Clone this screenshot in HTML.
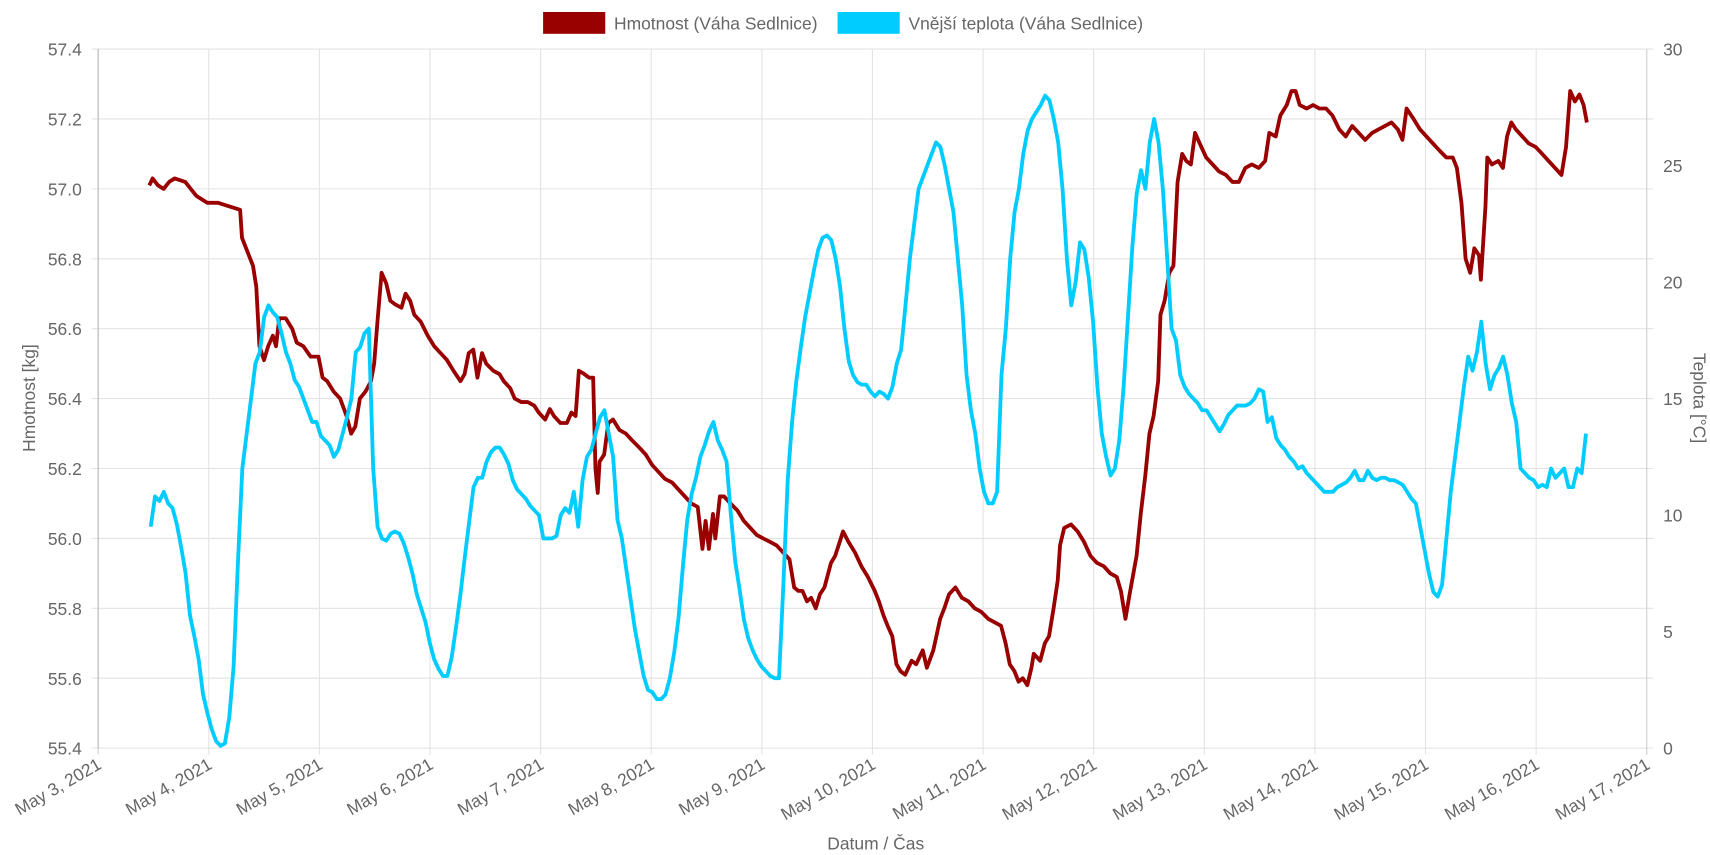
<!DOCTYPE html>
<html><head><meta charset="utf-8"><style>
html,body{margin:0;padding:0;background:#fff;}
svg{display:block;font-family:"Liberation Sans",Arial,sans-serif;}
</style></head><body>
<svg id="chart" width="1710" height="855" viewBox="0 0 1568 784" preserveAspectRatio="none" xmlns="http://www.w3.org/2000/svg">
<g id="grid"></g>
<g id="axes"></g>
<g id="series"></g>
<g>
<g><rect x="498" y="11" width="57" height="20" fill="#990000"/><text x="563" y="27" font-size="16" fill="#666">Hmotnost (Váha Sedlnice)</text></g>
<g><rect x="768" y="11" width="57" height="20" fill="#00ccff"/><text x="833" y="27" font-size="16" fill="#666">Vnější teplota (Váha Sedlnice)</text></g>
</g>
<text transform="translate(32,365) rotate(-90)" text-anchor="middle" font-size="16" fill="#666">Hmotnost [kg]</text>
<text transform="translate(1553,365) rotate(90)" text-anchor="middle" font-size="16" fill="#666">Teplota [°C]</text>
<text x="803" y="779" text-anchor="middle" font-size="16" fill="#666">Datum / Čas</text>
</svg>
<script>
const dayLabels=["May 3, 2021","May 4, 2021","May 5, 2021","May 6, 2021","May 7, 2021","May 8, 2021","May 9, 2021","May 10, 2021","May 11, 2021","May 12, 2021","May 13, 2021","May 14, 2021","May 15, 2021","May 16, 2021","May 17, 2021"];
const leftTicks=[55.4,55.6,55.8,56.0,56.2,56.4,56.6,56.8,57.0,57.2,57.4];
const rightTicks=[0,5,10,15,20,25,30];
// weight: hours since May 3 00:00 and kg
const weightHours=[11.1,11.8,13.0,14.2,15.4,16.6,18.9,20.1,21.3,23.7,26.0,28.4,30.8,31.2,32.7,33.6,34.3,35.0,36.0,36.9,37.9,38.6,39.3,40.7,42.1,43.1,44.5,46.1,47.8,48.7,49.7,51.1,52.5,53.9,54.9,55.8,56.8,58.0,59.2,59.9,60.6,61.5,62.5,63.4,64.4,65.8,66.7,67.7,68.6,70.0,71.5,72.9,74.3,75.7,77.1,78.6,79.5,80.4,81.4,82.3,83.3,84.2,85.7,87.1,88.0,89.4,90.4,91.8,93.2,94.6,95.6,97.0,98.0,98.9,100.3,101.7,102.7,103.6,104.3,105.5,106.5,107.4,107.9,108.4,108.8,109.8,110.7,111.7,113.1,114.5,115.9,117.4,118.8,120.2,121.6,123.0,124.5,125.9,127.3,128.7,130.1,131.1,131.8,132.5,133.4,133.9,134.9,135.8,137.2,138.7,140.1,141.5,142.9,144.3,145.8,147.2,148.6,150.0,151.0,151.9,152.8,153.8,154.7,155.7,156.6,157.6,159.0,159.9,160.9,161.6,162.8,164.2,165.6,167.0,168.5,169.4,170.4,171.3,172.3,173.2,174.1,175.1,176.5,177.5,178.9,179.8,181.2,182.7,183.6,184.6,186.0,187.4,188.8,190.2,191.6,193.1,194.5,195.9,196.9,197.8,198.8,199.7,200.6,201.6,202.5,203.0,204.4,205.4,206.3,207.3,208.2,208.7,209.6,211.1,212.5,213.9,215.3,216.7,218.2,219.6,221.0,221.9,222.9,223.8,225.3,226.2,227.2,228.1,229.0,230.0,230.5,231.4,232.4,233.3,234.2,235.2,236.1,237.1,238.0,239.0,240.4,241.8,243.2,244.7,246.1,247.5,248.9,250.3,251.8,253.2,254.1,255.5,256.5,257.9,258.9,259.8,260.7,262.2,263.6,265.0,266.4,267.8,269.3,270.7,272.1,273.5,274.9,276.4,277.8,279.2,280.6,282.0,283.0,283.9,285.4,286.8,288.2,289.6,291.0,292.5,293.9,294.8,295.8,296.7,297.7,298.6,299.6,300.0,301.0,301.4,302.4,303.8,304.8,305.7,306.6,307.6,309.0,310.4,311.9,313.3,314.7,316.1,317.5,318.5,319.4,320.4,321.4,322.3,323.0];
const weightKg=[57.01,57.03,57.01,57.00,57.02,57.03,57.02,57.00,56.98,56.96,56.96,56.95,56.94,56.86,56.81,56.78,56.72,56.55,56.51,56.55,56.58,56.55,56.63,56.63,56.60,56.56,56.55,56.52,56.52,56.46,56.45,56.42,56.40,56.35,56.30,56.32,56.40,56.42,56.45,56.50,56.62,56.76,56.73,56.68,56.67,56.66,56.70,56.68,56.64,56.62,56.58,56.55,56.53,56.51,56.48,56.45,56.47,56.53,56.54,56.46,56.53,56.50,56.48,56.47,56.45,56.43,56.40,56.39,56.39,56.38,56.36,56.34,56.37,56.35,56.33,56.33,56.36,56.35,56.48,56.47,56.46,56.46,56.20,56.13,56.22,56.24,56.33,56.34,56.31,56.30,56.28,56.26,56.24,56.21,56.19,56.17,56.16,56.14,56.12,56.10,56.09,55.97,56.05,55.97,56.07,56.00,56.12,56.12,56.10,56.08,56.05,56.03,56.01,56.00,55.99,55.98,55.96,55.94,55.86,55.85,55.85,55.82,55.83,55.80,55.84,55.86,55.93,55.95,55.99,56.02,55.99,55.96,55.92,55.89,55.85,55.82,55.78,55.75,55.72,55.64,55.62,55.61,55.65,55.64,55.68,55.63,55.68,55.77,55.80,55.84,55.86,55.83,55.82,55.80,55.79,55.77,55.76,55.75,55.70,55.64,55.62,55.59,55.60,55.58,55.63,55.67,55.65,55.70,55.72,55.80,55.88,55.98,56.03,56.04,56.02,55.99,55.95,55.93,55.92,55.90,55.89,55.85,55.77,55.84,55.95,56.07,56.18,56.30,56.35,56.45,56.64,56.68,56.76,56.78,57.02,57.10,57.08,57.07,57.16,57.13,57.09,57.07,57.05,57.04,57.02,57.02,57.06,57.07,57.06,57.08,57.16,57.15,57.21,57.24,57.28,57.28,57.24,57.23,57.24,57.23,57.23,57.21,57.17,57.15,57.18,57.16,57.14,57.16,57.17,57.18,57.19,57.17,57.14,57.23,57.20,57.17,57.15,57.13,57.11,57.09,57.09,57.06,56.96,56.80,56.76,56.83,56.81,56.74,56.95,57.09,57.07,57.08,57.06,57.15,57.19,57.17,57.15,57.13,57.12,57.10,57.08,57.06,57.04,57.12,57.28,57.25,57.27,57.24,57.19];
// temperature: sampled every 0.9466 h starting 11.4 h after May 3 00:00
const tempStartHour=11.4;
const tempStepHours=0.9466;
const tempC=[9.5,10.8,10.6,11.0,10.5,10.3,9.6,8.6,7.5,5.7,4.8,3.8,2.3,1.5,0.8,0.3,0.1,0.2,1.3,3.5,8.0,12.0,13.5,15.0,16.5,17.0,18.5,19.0,18.7,18.5,17.8,17.0,16.5,15.8,15.5,15.0,14.5,14.0,14.0,13.4,13.2,13.0,12.5,12.8,13.5,14.2,15.0,17.0,17.2,17.8,18.0,12.0,
9.5,9.0,8.9,9.2,9.3,9.2,8.8,8.2,7.5,6.6,6.0,5.4,4.5,3.8,3.4,3.1,3.1,3.9,5.2,6.6,8.2,9.7,11.2,11.6,11.6,12.3,12.7,12.9,12.9,12.6,12.2,11.5,11.1,10.9,10.7,10.4,10.2,10.0,
9.0,9.0,9.0,9.1,10.0,10.3,10.1,11.0,9.5,11.5,12.5,12.8,13.5,14.2,14.5,13.5,12.5,
9.8,9.0,7.7,6.4,5.1,4.1,3.1,2.5,2.4,2.1,2.1,2.3,3.0,4.1,5.6,7.8,9.8,10.9,11.6,12.5,13.0,13.6,14.0,13.2,12.8,12.3,
10.0,8.0,6.8,5.5,4.7,4.2,3.8,3.5,3.3,3.1,3.0,3.0,
7.0,11.5,14.0,15.8,17.2,18.5,19.5,20.5,21.4,21.9,22.0,21.8,21.0,19.8,18.0,16.6,16.0,15.7,15.6,15.6,15.3,15.1,15.3,15.2,15.0,15.5,16.5,17.1,
19.0,21.0,22.5,24.0,24.5,25.0,25.5,26.0,25.8,25.0,24.0,23.0,21.0,19.0,16.0,14.5,13.5,12.0,11.0,10.5,10.5,11.0,16.0,18.0,21.0,23.0,24.0,25.5,26.5,27.0,27.3,27.6,28.0,27.8,27.0,26.0,24.0,21.0,19.0,
20.0,21.7,21.4,20.2,18.3,15.5,13.5,12.5,11.7,12.0,13.2,15.5,18.5,21.5,23.8,24.8,
24.0,26.0,27.0,26.0,24.0,21.0,18.0,17.5,16.0,15.5,15.2,15.0,14.8,14.5,14.5,14.2,13.9,13.6,13.9,14.3,14.5,14.7,14.7,14.7,14.8,15.0,15.4,15.3,14.0,14.2,13.3,13.0,12.8,12.5,12.3,12.0,12.1,11.8,11.6,11.4,11.2,11.0,11.0,11.0,11.2,11.3,11.4,11.6,11.9,11.5,11.5,11.9,11.6,11.5,11.6,11.6,11.5,11.5,11.4,11.3,11.0,10.7,10.5,9.5,8.5,7.5,6.7,6.5,7.0,9.0,11.0,12.5,14.0,15.5,16.8,16.2,17.0,18.3,16.5,15.4,16.0,16.3,16.8,16.0,14.8,14.0,12.0,11.8,11.6,11.5,11.2,11.3,11.2,12.0,11.6,11.8,12.0,11.2,11.2,12.0,11.8,13.5];

const X0=90,X1=1510,Y0=45,Y1=686,NS="http://www.w3.org/2000/svg";
function xs(h){return X0+h/336*(X1-X0);}
function yl(v){return Y1-(v-55.4)/2*(Y1-Y0);}
function yr(v){return Y1-v/30*(Y1-Y0);}
function mk(tag,attrs,parent){const e=document.createElementNS(NS,tag);for(const k in attrs)e.setAttribute(k,attrs[k]);parent.appendChild(e);return e;}
const grid=document.getElementById('grid'),axes=document.getElementById('axes'),series=document.getElementById('series');
leftTicks.forEach((v,i)=>{
  const l=mk('line',{x1:X0-6,x2:X1+6,y1:yl(v),y2:yl(v),stroke:'#e3e3e3','stroke-width':1},grid);
  
  
  const t=mk('text',{x:X0-15,y:yl(v)+6,'text-anchor':'end','font-size':16,fill:'#666'},axes);
  t.textContent=v.toFixed(1);
  
  
});
rightTicks.forEach(v=>{
  const t=mk('text',{x:X1+15,y:yr(v)+6,'font-size':16,fill:'#666'},axes);
  t.textContent=v;
  
  
});
dayLabels.forEach((s,i)=>{
  const x=xs(i*24);
  const l=mk('line',{x1:x,x2:x,y1:Y0,y2:Y1+6,stroke:(i==0||i==14)?'#cfcfcf':'#e3e3e3','stroke-width':1},grid);
  
  
  const t=mk('text',{transform:`translate(${x+4},${Y1+18}) rotate(-30)`,'text-anchor':'end','font-size':16,fill:'#666'},axes);
  t.textContent=s;
  
  
});
const al=mk('line',{x1:X0,x2:X0,y1:Y0,y2:Y1,stroke:'#bbb'},axes);


let d='';weightHours.forEach((h,i)=>{d+=(i?'L':'M')+xs(h).toFixed(1)+','+yl(weightKg[i]).toFixed(1);});
const p1=mk('path',{d:d,fill:'none',stroke:'#990000','stroke-width':3.5,'stroke-linejoin':'round'},series);


let d2='';tempC.forEach((v,i)=>{d2+=(i?'L':'M')+xs(tempStartHour+i*tempStepHours).toFixed(1)+','+yr(v).toFixed(1);});
const p2=mk('path',{d:d2,fill:'none',stroke:'#00ccff','stroke-width':3.5,'stroke-linejoin':'round'},series);


</script>
</body></html>
